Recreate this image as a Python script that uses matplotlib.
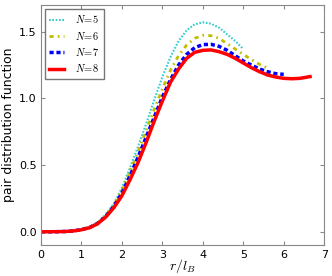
import matplotlib
matplotlib.use('Agg')
import matplotlib.pyplot as plt

plt.rcParams['mathtext.fontset'] = 'cm'

# pair distribution function g(r) for N = 5..8 electrons
r5 = [0, 0.2, 0.4, 0.6, 0.8, 1.0, 1.2, 1.4, 1.6, 1.8, 2.0, 2.2, 2.4, 2.6, 2.8,
      3.0, 3.2, 3.4, 3.6, 3.8, 4.0, 4.2, 4.4, 4.6, 4.8, 5.0]
g5 = [0, 0, 0.0005, 0.002, 0.007, 0.018, 0.037, 0.07, 0.13, 0.21, 0.33, 0.48,
      0.64, 0.81, 0.99, 1.16, 1.31, 1.43, 1.51, 1.555, 1.57, 1.56, 1.53, 1.48,
      1.43, 1.37]

r6 = [0, 0.2, 0.4, 0.6, 0.8, 1.0, 1.2, 1.4, 1.6, 1.8, 2.0, 2.2, 2.4, 2.6, 2.8,
      3.0, 3.2, 3.4, 3.6, 3.8, 4.0, 4.2, 4.4, 4.6, 4.8, 5.0, 5.2, 5.4, 5.6]
g6 = [0, 0, 0.0005, 0.002, 0.006, 0.017, 0.034, 0.066, 0.12, 0.20, 0.31, 0.45,
      0.60, 0.76, 0.92, 1.07, 1.21, 1.32, 1.40, 1.45, 1.472, 1.47, 1.45, 1.41,
      1.37, 1.33, 1.29, 1.255, 1.227]

r7 = [0, 0.2, 0.4, 0.6, 0.8, 1.0, 1.2, 1.4, 1.6, 1.8, 2.0, 2.2, 2.4, 2.6, 2.8,
      3.0, 3.2, 3.4, 3.6, 3.8, 4.0, 4.2, 4.4, 4.6, 4.8, 5.0, 5.2, 5.4, 5.6, 5.8,
      6.0]
g7 = [0, 0, 0.0005, 0.002, 0.006, 0.016, 0.032, 0.063, 0.115, 0.19, 0.29, 0.42,
      0.56, 0.71, 0.86, 1.01, 1.14, 1.25, 1.33, 1.38, 1.403, 1.405, 1.39, 1.36,
      1.32, 1.28, 1.25, 1.22, 1.20, 1.185, 1.18]

r8 = [0, 0.2, 0.4, 0.6, 0.8, 1.0, 1.2, 1.4, 1.6, 1.8, 2.0, 2.2, 2.4, 2.6, 2.8,
      3.0, 3.2, 3.4, 3.6, 3.8, 4.0, 4.2, 4.4, 4.6, 4.8, 5.0, 5.2, 5.4, 5.6, 5.8,
      6.0, 6.2, 6.4, 6.65]
g8 = [0, 0, 0.0005, 0.002, 0.006, 0.015, 0.03, 0.06, 0.11, 0.18, 0.27, 0.39,
      0.52, 0.67, 0.83, 0.98, 1.12, 1.22, 1.30, 1.345, 1.36, 1.363, 1.35, 1.33,
      1.30, 1.265, 1.23, 1.20, 1.175, 1.16, 1.15, 1.147, 1.15, 1.163]

labels = ['$N\\!=\\!5$', '$N\\!=\\!6$', '$N\\!=\\!7$', '$N\\!=\\!8$']

fig = plt.figure(figsize=(3.32, 2.76), dpi=100)
ax = fig.add_axes([0.1235, 0.112, 0.853, 0.87])

ax.plot(r5, g5, color=(0.2, 0.8, 0.8), lw=1.5, dashes=(0.8, 0.8), label=labels[0])
ax.plot(r6, g6, color=(0.75, 0.75, 0), lw=2, dashes=(1.5, 1.5, 0.6, 1.5),
        label=labels[1])
ax.plot(r7, g7, color='b', lw=2.5, dashes=(1.2, 0.8), label=labels[2])
ax.plot(r8, g8, '-', color='r', lw=2.5, label=labels[3])

ax.set_xlim(0, 7)
ax.set_ylim(-0.1, 1.7)
ax.set_xticks(range(8))
ax.set_yticks([0.0, 0.5, 1.0, 1.5])
ax.tick_params(direction='in', top=True, right=True, labelsize=8, length=3,
               color='#888888')
ax.tick_params(axis='x', pad=3.5)
ax.tick_params(axis='y', pad=3)
for s in ax.spines.values():
    s.set_color('#888888')

ax.set_xlabel('$r/l_B$', fontsize=10)
ax.xaxis.set_label_coords(0.5, -0.05)
ax.set_ylabel('pair distribution function', fontsize=9)
ax.yaxis.set_label_coords(-0.092, 0.5)

leg = ax.legend(loc='upper left', fontsize=7.5, handlelength=1.45,
                handletextpad=1.0, borderpad=0.45, labelspacing=0.42,
                borderaxespad=0.35, fancybox=False)
leg.get_frame().set_edgecolor('#555555')

fig.savefig('out.png', dpi=100)
